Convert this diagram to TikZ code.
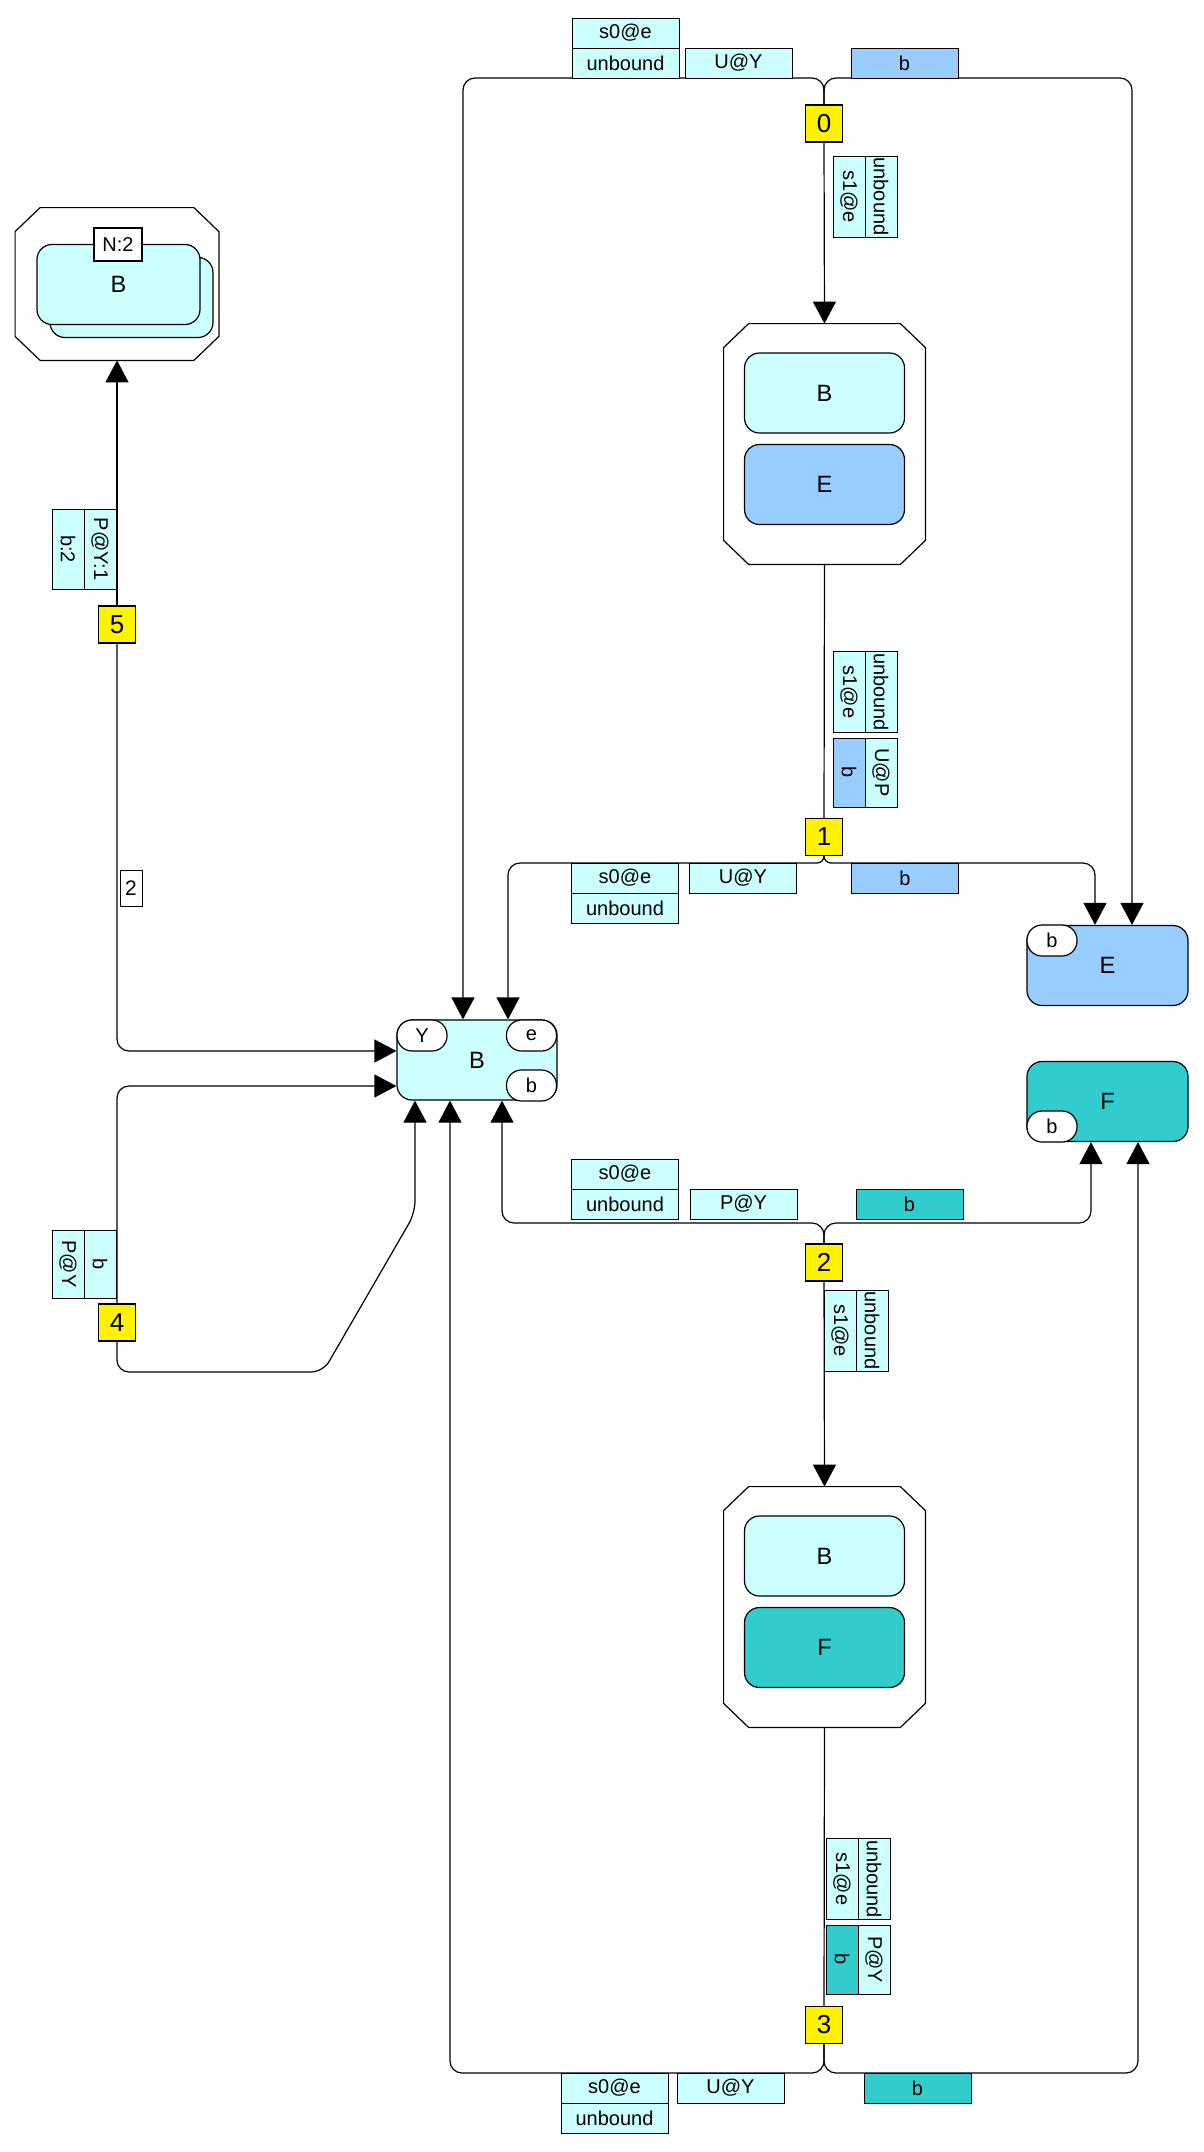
\documentclass[tikz,border=0pt]{standalone}
\usepackage{fontspec}
\setmainfont{Liberation Sans}
\usetikzlibrary{arrows.meta,positioning}

\definecolor{kcyan}{HTML}{CCFFFF}
\definecolor{kblue}{HTML}{99CCFF}
\definecolor{kteal}{HTML}{33CCCC}

\tikzset{
  link/.style={line width=0.6pt, rounded corners=6pt},
  arr/.style={link, -{Triangle[length=11pt,width=11.5pt]}},
  cplx/.style={minimum width=100.5pt, minimum height=120pt, inner sep=0pt},
  agent/.style={draw, line width=0.6pt, rounded corners=7.5pt, minimum width=80pt,
    minimum height=40pt, inner sep=0pt, font=\fontsize{11.8}{13}\selectfont},
  site/.style={draw, fill=white, line width=0.6pt, rounded corners=7.5pt, minimum width=25pt,
    minimum height=15.5pt, inner sep=0pt, font=\fontsize{10}{11}\selectfont},
  lab/.style={draw, line width=0.5pt, fill=kcyan, minimum width=53.5pt, minimum height=15pt,
    inner sep=0pt, font=\fontsize{10}{11}\selectfont},
  vlab/.style={lab, rotate=-90, minimum width=#1, minimum height=16pt},
  vlab/.default=40.5pt,
  rule/.style={draw, line width=0.6pt, fill=yellow, minimum size=18.5pt, inner sep=0pt,
    font=\fontsize{13}{14}\selectfont}
}

% octagon outline round a complex node
\newcommand\chamferbox[1]{%
  \draw[line width=0.6pt, fill=white]
    ([xshift=12.5pt]#1.north west) -- ([xshift=-12.5pt]#1.north east)
    -- ([yshift=-12pt]#1.north east) -- ([yshift=12pt]#1.south east)
    -- ([xshift=-12.5pt]#1.south east) -- ([xshift=12.5pt]#1.south west)
    -- ([yshift=12pt]#1.south west) -- ([yshift=-12pt]#1.north west) -- cycle;}

\begin{document}
\begin{tikzpicture}[x=0.5pt, y=-0.5pt]
   \useasboundingbox (0,0) rectangle (1204,2152);

   % complexes
   \node[cplx, minimum width=101.5pt, minimum height=76pt] (o2) at (117,284) {};
   \chamferbox{o2}
   \node[agent, fill=kcyan, minimum width=81.5pt] (o2b) at (131.5,297.5) {};
   \node[agent, fill=kcyan, minimum width=81.5pt] (o2a) at (118.5,284.5) {B};
   \node[draw, fill=white, line width=0.6pt, minimum width=24pt, minimum height=16.5pt,
     inner sep=0pt, font=\fontsize{10}{11}\selectfont] (o2n) at (118,244.5) {N:2};

   \node[cplx] (o1) at (824.5,444) {};
   \chamferbox{o1}
   \node[agent, fill=kcyan] (o1b) at (824.5,393) {B};
   \node[agent, fill=kblue] (o1e) at (824.5,484.5) {E};

   \node[cplx] (o3) at (824.5,1607) {};
   \chamferbox{o3}
   \node[agent, fill=kcyan] (o3b) at (824.5,1556) {B};
   \node[agent, fill=kteal] (o3f) at (824.5,1647.5) {F};

   % agents
   \node[agent, fill=kcyan] (Bc) at (477,1060) {B};
   \node[site] (BcY) at (422,1035.5) {Y};
   \node[site] (Bce) at (531.5,1035.5) {e};
   \node[site] (Bcb) at (531.5,1085.5) {b};
   \node[agent, fill=kblue, minimum width=80.5pt] (En) at (1107.5,965.5) {E};
   \node[site] (Enb) at (1052,940.5) {b};
   \node[agent, fill=kteal, minimum width=80.5pt] (Fn) at (1107.5,1101.5) {F};
   \node[site] (Fnb) at (1052,1126.5) {b};

   % rules
   \node[rule] (n0) at (824,123.5) {0};
   \node[rule] (n1) at (824,837) {1};
   \node[rule] (n2) at (824,1262.5) {2};
   \node[rule] (n3) at (824,2025) {3};
   \node[rule] (n4) at (117,1322.5) {4};
   \node[rule] (n5) at (117,624.5) {5};

   \coordinate (bus0) at (824,78);
   \coordinate (bus1) at (824,863);
   \coordinate (bus2) at (824,1223);
   \coordinate (bus3) at (824,2073);
   \coordinate (kink1) at (323,1372);
   \coordinate (kink2) at (415,1213);

   \draw[arr] (n0.north) -- (bus0) -| ([xshift=-7pt]Bc.north);
   \draw[arr] (n0.north) -- (bus0) -| ([xshift=12.25pt]En.north);
   \draw[arr] (n0.south) -- (o1.north);

   \draw[link] (o1.south) -- (n1.north);
   \draw[arr] (n1.south) [rounded corners=3.5pt] -- (bus1) [rounded corners=6pt] -| ([xshift=15.5pt]Bc.north);
   \draw[arr] (n1.south) [rounded corners=3.5pt] -- (bus1) [rounded corners=6pt] -| ([xshift=-6.25pt]En.north);

   \draw[arr] (n2.north) -- (bus2) -| ([xshift=12.5pt]Bc.south);
   \draw[arr] (n2.north) -- (bus2) -| ([xshift=-8.25pt]Fn.south);
   \draw[arr] (n2.south) -- (o3.north);

   \draw[link] (o3.south) -- (n3.north);
   \draw[arr] (n3.south) -- (bus3) -| ([xshift=-13.5pt]Bc.south);
   \draw[arr] (n3.south) -- (bus3) -| ([xshift=15.25pt]Fn.south);

   \draw[arr] (n4.north) |- ([yshift=-13pt]Bc.west);
   \draw[arr] (n4.south) |- (kink1) -- (kink2) -- ([xshift=-31pt]Bc.south);

   \draw[arr] (n5.north) -- (o2.south);
   \draw[arr] (n5.south) |- ([yshift=4.5pt]Bc.west);

   % rule 0
   \node[lab] (t0a) at (625.5,33) {s0@e};
   \node[lab] (t0b) at (625.5,63) {unbound};
   \node[lab] (t0c) at (738.5,63) {U@Y};
   \node[lab, fill=kblue] (t0d) at (904.5,63) {b};
   \node[vlab] (t0e) at (849,196.5) {s1@e};
   \node[vlab] (t0f) at (881,196.5) {unbound};

   % rule 1
   \node[vlab] (t1a) at (849,692) {s1@e};
   \node[vlab] (t1b) at (881,692) {unbound};
   \node[vlab=34.5pt, fill=kblue] (t1c) at (849,772.5) {b};
   \node[vlab=34.5pt] (t1d) at (881,772.5) {U@P};
   \node[lab] (t1e) at (625,878) {s0@e};
   \node[lab] (t1f) at (625,908) {unbound};
   \node[lab] (t1g) at (743,878) {U@Y};
   \node[lab, fill=kblue] (t1h) at (905,878) {b};

   % rule 2
   \node[lab] (t2a) at (625,1174) {s0@e};
   \node[lab] (t2b) at (625,1204) {unbound};
   \node[lab] (t2c) at (743.5,1204) {P@Y};
   \node[lab, fill=kteal] (t2d) at (909.5,1204) {b};
   \node[vlab] (t2e) at (840,1330.5) {s1@e};
   \node[vlab] (t2f) at (872,1330.5) {unbound};

   % rule 3
   \node[vlab] (t3a) at (842,1879) {s1@e};
   \node[vlab] (t3b) at (874,1879) {unbound};
   \node[vlab=34.5pt, fill=kteal] (t3c) at (842,1959.5) {b};
   \node[vlab=34.5pt] (t3d) at (874,1959.5) {P@Y};
   \node[lab] (t3e) at (614.5,2088) {s0@e};
   \node[lab] (t3f) at (614.5,2118) {unbound};
   \node[lab] (t3g) at (730.5,2088) {U@Y};
   \node[lab, fill=kteal] (t3h) at (917.5,2088) {b};

   % rule 4
   \node[vlab=34pt] (t4a) at (68,1264) {P@Y};
   \node[vlab=34pt] (t4b) at (100,1264) {b};

   % rule 5
   \node[vlab=40pt] (t5a) at (68,549) {b:2};
   \node[vlab=40pt] (t5b) at (100,549) {P@Y:1};
   \node[draw, fill=white, line width=0.5pt, minimum width=11pt, minimum height=18pt,
     inner sep=0pt, font=\fontsize{10.5}{12}\selectfont] (t5c) at (131,888) {2};

\end{tikzpicture}
\end{document}
